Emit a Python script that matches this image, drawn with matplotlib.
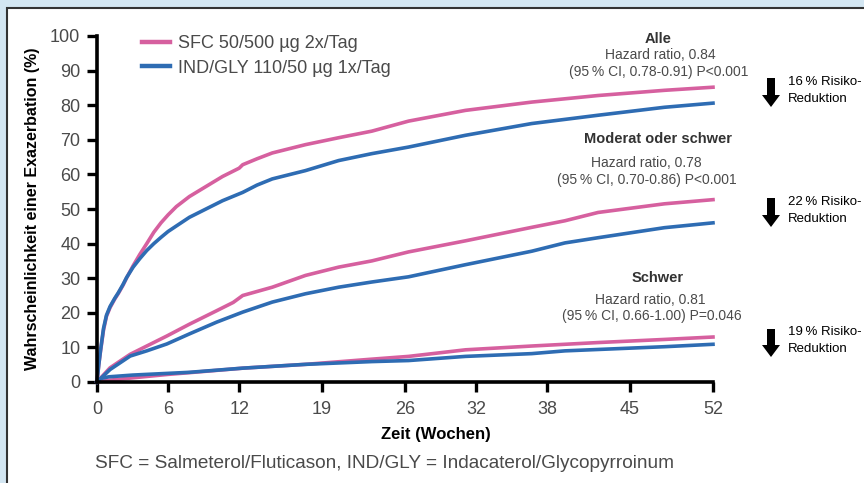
import matplotlib
matplotlib.use("Agg")
import matplotlib.pyplot as plt
from matplotlib.patches import Rectangle, Polygon
from matplotlib.lines import Line2D

plt.rcParams['font.family'] = ['Liberation Sans', 'DejaVu Sans']

# ---------------- data ----------------
series_names = ["SFC 50/500 µg 2x/Tag", "IND/GLY 110/50 µg 1x/Tag"]
x_ticks = [0, 6, 12, 19, 26, 32, 38, 45, 52]
y_ticks = [0, 10, 20, 30, 40, 50, 60, 70, 80, 90, 100]

# Alle
alle_sfc_wk = [0, 0.15, 0.3, 0.55, 0.8, 1.1, 1.5, 1.8, 2.2, 2.5, 3.05, 3.6, 4.2, 4.8, 5.4, 6.0, 6.7, 7.8,
               9.2, 10.6, 12.0, 12.3, 13.5, 14.8, 17.6, 20.4, 23.2, 26.3, 31.1, 36.7, 42.3, 47.9, 52]
alle_sfc = [0, 5, 9, 15, 19, 21.5, 24, 25.6, 28, 30.1, 33.6, 36.8, 40.0, 43.3, 46.0, 48.3, 50.7, 53.6,
            56.5, 59.4, 61.8, 62.8, 64.5, 66.2, 68.6, 70.6, 72.5, 75.4, 78.5, 80.9, 82.8, 84.3, 85.2]
alle_ind_wk = [0, 0.15, 0.3, 0.55, 0.8, 1.1, 1.5, 1.8, 2.2, 2.5, 3.05, 3.6, 4.2, 4.8, 5.4, 6.0, 6.7, 7.8,
               9.2, 10.6, 12.3, 13.5, 14.8, 17.6, 20.4, 23.2, 26.3, 31.1, 36.7, 42.3, 47.9, 52]
alle_ind = [0, 5, 9.2, 15.5, 19.3, 21.8, 24.2, 25.8, 28.2, 30.2, 33.2, 35.6, 38.0, 40.0, 41.8, 43.5, 45.1,
            47.6, 50.0, 52.4, 54.8, 56.9, 58.7, 61.1, 64.0, 66.0, 67.9, 71.3, 74.7, 77.1, 79.4, 80.6]

# Moderat oder schwer
mod_sfc_wk = [0, 1.1, 2.8, 4.2, 5.9, 7.8, 10.1, 11.5, 12.3, 14.8, 17.6, 20.4, 23.2, 26.3, 31.1, 36.7,
              39.5, 42.3, 47.9, 52]
mod_sfc = [0, 4.1, 8.0, 10.4, 13.3, 16.7, 20.6, 23.0, 25.0, 27.4, 30.8, 33.2, 35.0, 37.6, 40.8, 44.7,
           46.6, 49.0, 51.5, 52.7]
mod_ind_wk = [0, 1.1, 2.8, 4.2, 5.9, 7.8, 10.1, 12.3, 14.8, 17.6, 20.4, 23.2, 26.3, 31.1, 36.7,
              39.5, 42.3, 47.9, 52]
mod_ind = [0, 3.6, 7.5, 9.0, 11.0, 13.9, 17.3, 20.2, 23.1, 25.5, 27.4, 28.9, 30.4, 33.9, 37.8,
           40.2, 41.7, 44.6, 46.0]

# Schwer
sev_sfc_wk = [0, 1, 3, 6, 7.8, 12.3, 17.6, 23.2, 26.3, 31.1, 36.7, 42.3, 47.9, 52]
sev_sfc = [0, 0.5, 1.2, 2.2, 2.7, 4.0, 5.1, 6.6, 7.4, 9.3, 10.4, 11.4, 12.3, 13.0]
sev_ind_wk = [0, 0.3, 1, 3, 6, 7.8, 12.3, 17.6, 23.2, 26.3, 31.1, 36.7, 39.5, 42.3, 47.9, 52]
sev_ind = [0, 1.0, 1.5, 2.0, 2.5, 2.8, 4.0, 5.1, 5.9, 6.2, 7.4, 8.2, 9.0, 9.4, 10.2, 10.9]

groups = [
    ("Alle", "Hazard ratio, 0.84", "(95\u2009% CI, 0.78-0.91) P<0.001", "16\u2009% Risiko-"),
    ("Moderat oder schwer", "Hazard ratio, 0.78", "(95\u2009% CI, 0.70-0.86) P<0.001", "22\u2009% Risiko-"),
    ("Schwer", "Hazard ratio, 0.81", "(95\u2009% CI, 0.66-1.00) P=0.046", "19\u2009% Risiko-"),
]

PINK = "#d6609f"
BLUE = "#2e6cb3"
GRAY = "#4a4a4a"

W, H = 864, 483
fig = plt.figure(figsize=(W / 100, H / 100), dpi=100)
fig.patch.set_facecolor("#d3e6f2")


def fx(px):
    return px / W


def fy(py):
    return 1 - py / H


# white panel with border
panel = Rectangle((fx(7), -0.01), 1.0, fy(8) + 0.01, transform=fig.transFigure,
                  facecolor="white", edgecolor="#333333", linewidth=1.5, zorder=-10)
fig.add_artist(panel)

ax = fig.add_axes([fx(97), fy(382), fx(713) - fx(97), fy(36) - fy(382)])
ax.set_zorder(5)
ax.patch.set_alpha(0)

lw = 2.6
ax.plot(alle_sfc_wk, alle_sfc, color=PINK, lw=lw, clip_on=False)
ax.plot(alle_ind_wk, alle_ind, color=BLUE, lw=lw, clip_on=False)
ax.plot(mod_sfc_wk, mod_sfc, color=PINK, lw=lw, clip_on=False)
ax.plot(mod_ind_wk, mod_ind, color=BLUE, lw=lw, clip_on=False)
ax.plot(sev_sfc_wk, sev_sfc, color=PINK, lw=lw, clip_on=False)
ax.plot(sev_ind_wk, sev_ind, color=BLUE, lw=lw, clip_on=False)

ax.set_xlim(0, 52)
ax.set_ylim(0, 100)
ax.set_xticks(x_ticks)
ax.set_yticks(y_ticks)
for s in ["top", "right"]:
    ax.spines[s].set_visible(False)
for s in ["left", "bottom"]:
    ax.spines[s].set_linewidth(2.6)
    ax.spines[s].set_color("black")
ax.tick_params(axis="both", direction="out", length=7, width=2.4, color="black",
               labelsize=13, labelcolor=GRAY)
ax.tick_params(axis="x", pad=7)
ax.tick_params(axis="y", pad=5)

# axis labels
fig.text(fx(33), fy(209), "Wahrscheinlichkeit einer Exazerbation (%)", rotation=90,
         ha="center", va="center", fontsize=11.5, fontweight="bold", color="black")
fig.text(fx(436), fy(435), "Zeit (Wochen)", ha="center", va="center",
         fontsize=12, fontweight="bold", color="black")
fig.text(fx(95), fy(463), "SFC = Salmeterol/Fluticason, IND/GLY = Indacaterol/Glycopyrroinum",
         ha="left", va="center", fontsize=13.7, color=GRAY)

# legend
handles = [Line2D([0], [0], color=PINK, lw=3.2), Line2D([0], [0], color=BLUE, lw=3.2)]
leg = ax.legend(handles, series_names, loc="upper left", bbox_to_anchor=(fx(142), fy(35)),
                bbox_transform=fig.transFigure, frameon=False, fontsize=13,
                handlelength=1.55, handletextpad=0.45, labelspacing=0.42, borderaxespad=0,
                borderpad=0)
for t in leg.get_texts():
    t.set_color(GRAY)

# group annotations
title_y = [39, 139, 278]
hr_y = [55, 163, 300]
ci_y = [72, 180, 316]
hr_x = [660, 646, 650]
ci_x = [659, 647, 652]
arrow_top = [78, 198, 329]
arrow_bot = [107, 227, 357]
risk_y = [82, 202, 332]
for i, (title, hr, ci, risk) in enumerate(groups):
    fig.text(fx(658), fy(title_y[i]), title, ha="center", va="center", fontsize=10.5,
             fontweight="bold", color="#333333")
    fig.text(fx(hr_x[i]), fy(hr_y[i]), hr, ha="center", va="center", fontsize=10, color=GRAY)
    fig.text(fx(ci_x[i]), fy(ci_y[i]), ci, ha="center", va="center", fontsize=10, color=GRAY)
    # arrow (pixel geometry)
    top = arrow_top[i]
    bot = arrow_bot[i]
    cx = 771
    sw, hw, hl = 4, 9, 12
    pts = [(cx - sw, top), (cx + sw, top), (cx + sw, bot - hl), (cx + hw, bot - hl), (cx, bot),
           (cx - hw, bot - hl), (cx - sw, bot - hl)]
    fig.add_artist(Polygon([(fx(px), fy(py)) for px, py in pts], closed=True,
                           transform=fig.transFigure, facecolor="black", edgecolor="none",
                           zorder=6))
    fig.text(fx(788), fy(risk_y[i]), risk, ha="left", va="center", fontsize=9.5, color="black")
    fig.text(fx(788), fy(risk_y[i] + 17), "Reduktion", ha="left", va="center", fontsize=9.5,
             color="black")

fig.savefig("out.png", dpi=100)
